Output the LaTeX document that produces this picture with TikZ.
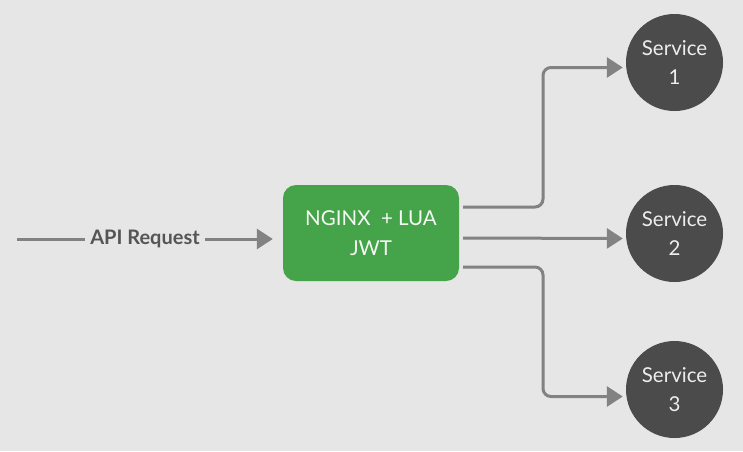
\documentclass[tikz,border=0pt]{standalone}
\usepackage{fontspec}
\setmainfont{Lato}
\usetikzlibrary{arrows.meta}
\definecolor{bggray}{HTML}{E6E6E6}
\definecolor{linegray}{HTML}{828282}
\definecolor{gwgreen}{HTML}{45A349}
\definecolor{svcgray}{HTML}{4B4B4B}
\definecolor{svctext}{HTML}{EDEDED}
\definecolor{reqtext}{HTML}{555555}
\tikzset{
  gwbox/.style    = {fill=gwgreen, rounded corners=13pt, minimum width=176pt,
                     minimum height=96pt, text=white!94!gwgreen, align=center,
                     font=\fontsize{20.5}{30}\selectfont},
  svcnode/.style  = {circle, fill=svcgray, minimum size=97pt, inner sep=0pt,
                     text=svctext, align=center, font=\fontsize{20.5}{29}\selectfont},
  flow/.style     = {-{Triangle[length=16pt,width=20pt]}, linegray, line width=3pt},
  plainline/.style= {linegray, line width=3pt}
}
\begin{document}
\begin{tikzpicture}[x=1pt,y=-1pt]
  \fill[bggray] (0,0) rectangle (743,451);
  \useasboundingbox (0,0) rectangle (743,451);
  \node[gwbox] (gw) at (371,233) {NGINX\ \ + LUA\\JWT};
  \node[svcnode] (s1) at (674.5,62.5) {Service\\1};
  \node[svcnode] (s2) at (674.5,233.5) {Service\\2};
  \node[svcnode] (s3) at (674.5,389.5) {Service\\3};
  % incoming request, label sits on the line
  \coordinate (start) at (17,239);
  \node[text=reqtext, font=\fontsize{20}{24}\selectfont\bfseries, inner xsep=5pt]
        (req) at (145,239) {API Request};
  \draw[plainline] (start) -- (req);
  \draw[flow, shorten >=10pt] (req) -- (req -| gw.west);
  % fan out to the services
  \coordinate (bend) at (543,0);
  \coordinate (in1) at ([yshift=-5pt]s1.west);
  \coordinate (in2) at ([yshift=-5pt]s2.west);
  \coordinate (in3) at ([yshift=-7pt]s3.west);
  \draw[flow, rounded corners=8pt, shorten >=3pt]
        ([xshift=4pt,yshift=26pt]gw.east) -| (bend |- in1) -- (in1);
  \draw[flow, shorten >=3pt] ([xshift=4pt,yshift=-5pt]gw.east) -- (in2);
  \draw[flow, rounded corners=8pt, shorten >=3pt]
        ([xshift=4pt,yshift=-34pt]gw.east) -| (bend |- in3) -- (in3);
\end{tikzpicture}
\end{document}
